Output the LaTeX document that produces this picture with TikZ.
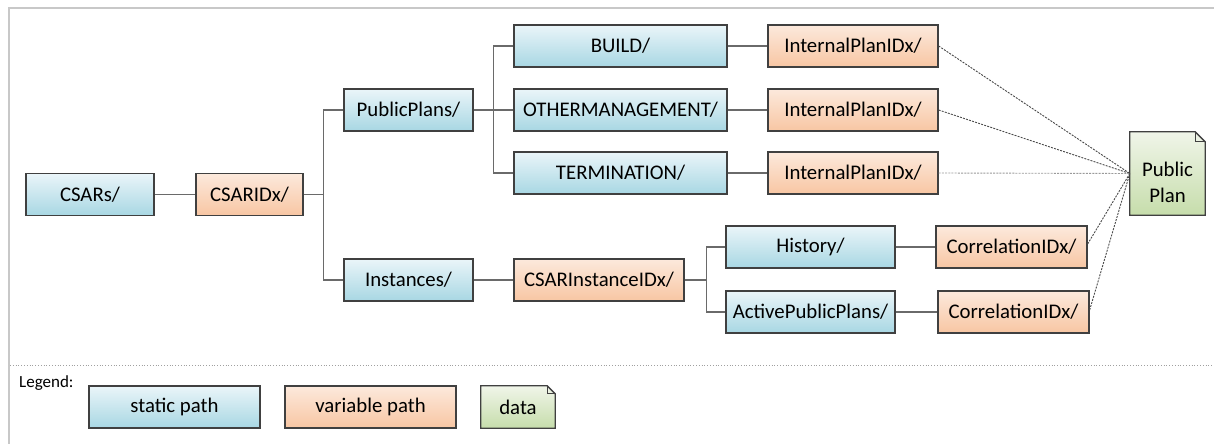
\documentclass[tikz,border=0pt]{standalone}
\usepackage{fontspec}
\setmainfont{Carlito}
\usetikzlibrary{calc,backgrounds}
\definecolor{bluetop}{HTML}{EAF5F9}
\definecolor{bluebot}{HTML}{A8D7E3}
\definecolor{orangetop}{HTML}{FCE9DC}
\definecolor{orangebot}{HTML}{F8C6A3}
\definecolor{greentop}{HTML}{F0F5E9}
\definecolor{greenbot}{HTML}{C6DDAB}
\definecolor{bordercol}{HTML}{404040}
\definecolor{conncol}{HTML}{6A6A6A}
\definecolor{dashcol}{HTML}{4A4A4A}
\definecolor{lightdash}{HTML}{9A9A9A}
\definecolor{framecol}{HTML}{C8C8C8}
\definecolor{sepcol}{HTML}{A0A0A0}
\newcommand\mynote[2]{%
\begin{pgfonlayer}{background}
\path[top color=greentop,bottom color=greenbot,draw=bordercol,line width=1.3pt]
 (#1.south west) -- (#1.north west) -- ([xshift=-#2pt]#1.north east)
 -- ([yshift=-#2pt]#1.north east) -- (#1.south east) -- cycle;
\draw[bordercol,line width=0.8pt] ([xshift=-#2pt]#1.north east) -- ([xshift=-#2pt,yshift=-#2pt]#1.north east) -- ([yshift=-#2pt]#1.north east);
\end{pgfonlayer}}
\begin{document}
\begin{tikzpicture}[x=1pt,y=-1pt,
  box/.style={draw=bordercol, line width=1.3pt, minimum height=42pt, inner sep=0pt, font=\fontsize{20.8pt}{25pt}\selectfont},
  staticbox/.style={box, top color=bluetop, bottom color=bluebot},
  varbox/.style={box, top color=orangetop, bottom color=orangebot},
  notebox/.style={inner sep=0pt, font=\fontsize{20.8pt}{26pt}\selectfont},
  conn/.style={draw=conncol, line width=1.4pt},
  dataconn/.style={draw=dashcol, line width=0.9pt, dash pattern=on 2pt off 1.2pt},
]
\useasboundingbox (0,0) rectangle (1214,444);
\begin{pgfonlayer}{background}
\fill[white] (0,0) rectangle (1214,444);
\end{pgfonlayer}
% frame
\draw[framecol, line width=2pt] (1214,8) -- (9,8) -- (9,444);
\draw[sepcol, line width=0.8pt, dotted] (10,365) -- (1214,365);

% nodes
\node[staticbox, minimum width=128pt] (csars) at (90,194.5) {CSARs/};
\node[varbox, minimum width=107pt] (csarid) at (249.5,194.5) {CSARIDx/};
\node[staticbox, minimum width=129pt] (pub) at (408.5,110) {PublicPlans/};
\node[staticbox, minimum width=129pt] (inst) at (408.5,280) {Instances/};
\node[staticbox, minimum width=213pt] (build) at (620.5,46) {BUILD/};
\node[staticbox, minimum width=213pt] (other) at (620.5,110) {OTHERMANAGEMENT/};
\node[staticbox, minimum width=213pt] (term) at (620.5,173) {TERMINATION/};
\node[varbox, minimum width=170pt] (ipb) at (853,46) {InternalPlanIDx/};
\node[varbox, minimum width=170pt] (ipo) at (853,110) {InternalPlanIDx/};
\node[varbox, minimum width=170pt] (ipt) at (853,173) {InternalPlanIDx/};
\node[varbox, minimum width=170pt] (cii) at (599,280) {CSARInstanceIDx/};
\node[staticbox, minimum width=169pt] (hist) at (810.5,247) {History/};
\node[staticbox, minimum width=169pt] (act) at (810.5,312) {ActivePublicPlans/};
\node[varbox, minimum width=151pt] (corh) at (1011.5,247) {CorrelationIDx/};
\node[varbox, minimum width=151pt] (cora) at (1013.5,312) {CorrelationIDx/};
\node[notebox, minimum width=75pt, minimum height=83pt] (pp) at (1167.5,173.5)
  {\raisebox{-16pt}[0pt][0pt]{\begin{tabular}{@{}c@{}}Public\\Plan\end{tabular}}};
\mynote{pp}{10}

% connectors
\draw[conn] (csars) -- (csarid);
\draw[conn] (csarid.east) -- ++(20,0) coordinate (b1);
\draw[conn] (b1) |- (pub.west);
\draw[conn] (b1) |- (inst.west);
\draw[conn] (pub.east) -- ++(20,0) coordinate (b2);
\draw[conn] (b2) |- (build.west);
\draw[conn] (b2) |- (term.west);
\draw[conn] (b2) -- (other.west);
\draw[conn] (inst) -- (cii);
\draw[conn] (cii.east) -- ++(22,0) coordinate (b3);
\draw[conn] (b3) |- (hist.west);
\draw[conn] (b3) |- (act.west);
\draw[conn] (build) -- (ipb);
\draw[conn] (other) -- (ipo);
\draw[conn] (term) -- (ipt);
\draw[conn] (hist) -- (corh);
\draw[conn] (act) -- (cora);

% data links
\draw[dataconn] (ipb.east) -- (pp.west);
\draw[dataconn] (ipo.east) -- (pp.west);
\draw[dataconn, draw=lightdash] (ipt.east) -- (pp.west);
\draw[dataconn] ([yshift=3pt]corh.east) -- (pp.west);
\draw[dataconn] ([yshift=2pt]cora.east) -- (pp.west);

% legend
\node[anchor=west, inner sep=0pt, font=\fontsize{17pt}{20pt}\selectfont] (leg) at (19,383) {Legend:};
\node[staticbox, minimum width=171pt] (ls) at (174.5,407) {static path};
\node[varbox, minimum width=171pt] (lv) at (370.5,407) {variable path};
\node[notebox, minimum width=74pt, minimum height=42pt] (ld) at (518,407) {data};
\mynote{ld}{8}
\end{tikzpicture}
\end{document}
